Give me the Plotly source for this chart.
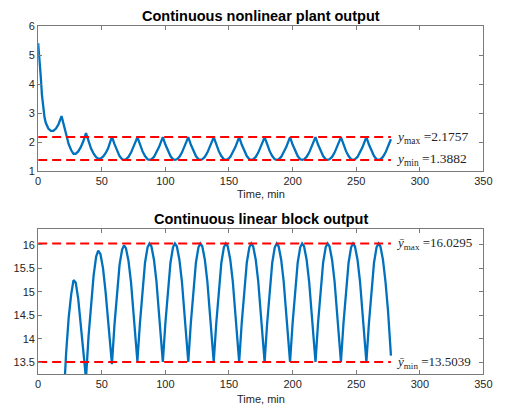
import plotly.graph_objects as go

# ---------------- data ----------------
time_min = [
    0, 1, 2, 3, 4, 5, 6, 8, 10, 12, 14, 16, 18.4, 20, 22, 24, 26, 27.8, 29.5, 31.5, 33.5, 35.5,
    37.6, 39.6, 41.6, 43.6, 45.6, 47.2, 49, 51, 53, 55, 57,
    58, 60, 62, 64, 66, 67.5, 69, 71, 73, 75, 77,
    78, 80, 82, 84, 86, 87.5, 89, 91, 93, 95, 97,
    98, 100, 102, 104, 106, 107.5, 109, 111, 113, 115, 117,
    118, 120, 122, 124, 126, 127.5, 129, 131, 133, 135, 137,
    138, 140, 142, 144, 146, 147.5, 149, 151, 153, 155, 157,
    158, 160, 162, 164, 166, 167.5, 169, 171, 173, 175, 177,
    178, 180, 182, 184, 186, 187.5, 189, 191, 193, 195, 197,
    198, 200, 202, 204, 206, 207.5, 209, 211, 213, 215, 217,
    218, 220, 222, 224, 226, 227.5, 229, 231, 233, 235, 237,
    238, 240, 242, 244, 246, 247.5, 249, 251, 253, 255, 257,
    258, 260, 262, 264, 266, 267.5, 269, 271, 273, 275, 277.3,
]

plant_output = [
    5.42, 4.95, 4.30, 3.62, 3.15, 2.86, 2.67, 2.47, 2.39, 2.39, 2.47, 2.62, 2.90, 2.60, 2.22, 1.93, 1.72, 1.60, 1.60, 1.68, 1.83, 2.03,
    2.31, 2.02, 1.78, 1.60, 1.48, 1.43, 1.43, 1.50, 1.62, 1.79, 2.03,
    2.19, 1.93, 1.70, 1.52, 1.41, 1.39, 1.41, 1.49, 1.64, 1.83, 2.06,
    2.176, 1.92, 1.69, 1.52, 1.41, 1.388, 1.41, 1.49, 1.64, 1.83, 2.06,
    2.176, 1.92, 1.69, 1.52, 1.41, 1.388, 1.41, 1.49, 1.64, 1.83, 2.06,
    2.176, 1.92, 1.69, 1.52, 1.41, 1.388, 1.41, 1.49, 1.64, 1.83, 2.06,
    2.176, 1.92, 1.69, 1.52, 1.41, 1.388, 1.41, 1.49, 1.64, 1.83, 2.06,
    2.176, 1.92, 1.69, 1.52, 1.41, 1.388, 1.41, 1.49, 1.64, 1.83, 2.06,
    2.176, 1.92, 1.69, 1.52, 1.41, 1.388, 1.41, 1.49, 1.64, 1.83, 2.06,
    2.176, 1.92, 1.69, 1.52, 1.41, 1.388, 1.41, 1.49, 1.64, 1.83, 2.06,
    2.176, 1.92, 1.69, 1.52, 1.41, 1.388, 1.41, 1.49, 1.64, 1.83, 2.06,
    2.176, 1.92, 1.69, 1.52, 1.41, 1.388, 1.41, 1.49, 1.64, 1.83, 2.06,
    2.176, 1.92, 1.69, 1.52, 1.41, 1.388, 1.41, 1.49, 1.64, 1.83, 2.10,
]

linear_output = [
    None, None, None, None, None, None, None, None, None, None, None, 10.6, 11.9, 12.75, 13.70, 14.45, 14.95, 15.25, 15.20, 14.85, 14.30, 13.70,
    13.15, 14.05, 14.80, 15.35, 15.75, 15.88, 15.80, 15.50, 15.00, 14.40, 13.70,
    13.46, 14.30, 15.02, 15.58, 15.90, 15.99, 15.93, 15.66, 15.20, 14.58, 13.87,
    13.52, 14.33, 15.05, 15.62, 15.95, 16.03, 15.97, 15.69, 15.22, 14.60, 13.88,
    13.504, 14.33, 15.05, 15.62, 15.95, 16.03, 15.97, 15.69, 15.22, 14.60, 13.88,
    13.504, 14.33, 15.05, 15.62, 15.95, 16.03, 15.97, 15.69, 15.22, 14.60, 13.88,
    13.504, 14.33, 15.05, 15.62, 15.95, 16.03, 15.97, 15.69, 15.22, 14.60, 13.88,
    13.504, 14.33, 15.05, 15.62, 15.95, 16.03, 15.97, 15.69, 15.22, 14.60, 13.88,
    13.504, 14.33, 15.05, 15.62, 15.95, 16.03, 15.97, 15.69, 15.22, 14.60, 13.88,
    13.504, 14.33, 15.05, 15.62, 15.95, 16.03, 15.97, 15.69, 15.22, 14.60, 13.88,
    13.504, 14.33, 15.05, 15.62, 15.95, 16.03, 15.97, 15.69, 15.22, 14.60, 13.88,
    13.504, 14.33, 15.05, 15.62, 15.95, 16.03, 15.97, 15.69, 15.22, 14.60, 13.88,
    13.504, 14.33, 15.05, 15.62, 15.95, 16.03, 15.97, 15.69, 15.22, 14.60, 13.64,
]

plant_levels = [2.1757, 1.3882]
plant_level_labels = ["<i>y</i><sub>max</sub> =2.1757", "<i>y</i><sub>min</sub> =1.3882"]
linear_levels = [16.0295, 13.5039]
linear_level_labels = ["<i>ȳ</i><sub>max</sub> =16.0295", "<i>ȳ</i><sub>min</sub> =13.5039"]
level_span = [0, 277.3]

x_ticks = [0, 50, 100, 150, 200, 250, 300, 350]
plant_y_ticks = [1, 2, 3, 4, 5, 6]
linear_y_ticks = [13.5, 14, 14.5, 15, 15.5, 16]

titles = ["Continuous nonlinear plant output", "Continuous linear block output"]
x_label = "Time, min"

# ---------------- figure ----------------
W, H = 510, 419
BLUE = "#0072BD"
RED = "#FF0000"
AX = "#262626"
SANS = "Liberation Sans, Arial, Helvetica, sans-serif"
SERIF = "Liberation Serif, Times New Roman, serif"

fig = go.Figure()

fig.add_trace(go.Scatter(x=time_min, y=plant_output, mode="lines",
                         line=dict(color=BLUE, width=2.3), xaxis="x", yaxis="y",
                         showlegend=False, connectgaps=False))
for lv in plant_levels:
    fig.add_trace(go.Scatter(x=level_span, y=[lv, lv], mode="lines",
                             line=dict(color=RED, width=2, dash="9px,5px"),
                             xaxis="x", yaxis="y", showlegend=False))

fig.add_trace(go.Scatter(x=time_min, y=linear_output, mode="lines",
                         line=dict(color=BLUE, width=2.3), xaxis="x2", yaxis="y2",
                         showlegend=False, connectgaps=False))
for lv in linear_levels:
    fig.add_trace(go.Scatter(x=level_span, y=[lv, lv], mode="lines",
                             line=dict(color=RED, width=2, dash="9px,5px"),
                             xaxis="x2", yaxis="y2", showlegend=False))

x_dom = [36 / W, 492 / W]
top_dom = [1 - 170 / H, 1 - 21 / H]
bot_dom = [1 - 379 / H, 1 - 230 / H]

axis_common = dict(showgrid=False, zeroline=False, showline=True, linecolor="#7a7a7a",
                   linewidth=1, mirror="ticks", ticks="inside", ticklen=4, tickwidth=1,
                   tickcolor="#7a7a7a", tickfont=dict(family=SANS, size=11, color=AX))

fig.update_layout(
    width=W, height=H,
    margin=dict(l=0, r=0, t=0, b=0),
    paper_bgcolor="white", plot_bgcolor="white",
    xaxis=dict(domain=x_dom, range=[0, 350], tickvals=x_ticks, anchor="y", **axis_common),
    yaxis=dict(domain=top_dom, range=[1, 6], tickvals=plant_y_ticks, anchor="x", **axis_common),
    xaxis2=dict(domain=x_dom, range=[0, 350], tickvals=x_ticks, anchor="y2", **axis_common),
    yaxis2=dict(domain=bot_dom, range=[13.245, 16.33], tickvals=linear_y_ticks, anchor="x2", **axis_common),
)

ann = []
for lv, lab in zip(plant_levels, plant_level_labels):
    ann.append(dict(x=280, y=lv, xref="x", yref="y", text=lab, showarrow=False,
                    xanchor="left", yanchor="middle", font=dict(family=SERIF, size=13.5, color=AX)))
for lv, lab in zip(linear_levels, linear_level_labels):
    ann.append(dict(x=280, y=lv, xref="x2", yref="y2", text=lab, showarrow=False,
                    xanchor="left", yanchor="middle", font=dict(family=SERIF, size=13, color=AX)))

xc = (x_dom[0] + x_dom[1]) / 2
for txt, ypx in zip(titles, [10, 219]):
    ann.append(dict(x=xc, y=1 - ypx / H, xref="paper", yref="paper", text=f"<b>{txt}</b>",
                    showarrow=False, xanchor="center", yanchor="middle",
                    font=dict(family=SANS, size=14.5, color="black")))
for ypx in [194, 405]:
    ann.append(dict(x=xc, y=1 - ypx / H, xref="paper", yref="paper", text=x_label,
                    showarrow=False, xanchor="center", yanchor="middle",
                    font=dict(family=SANS, size=11, color=AX)))

fig.update_layout(annotations=ann)

fig.write_html("out.html")
